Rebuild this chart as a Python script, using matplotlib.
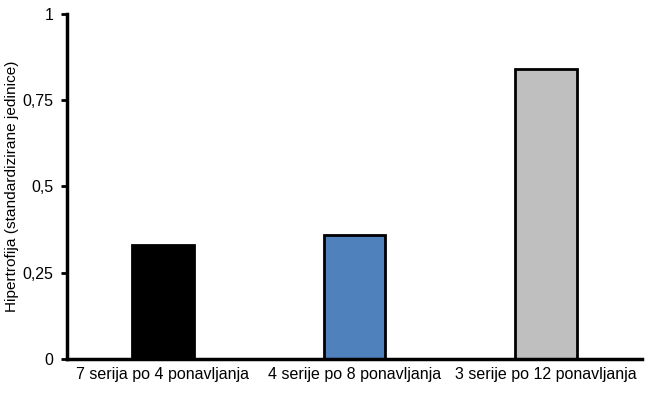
import matplotlib
matplotlib.use("Agg")
import matplotlib.pyplot as plt
from matplotlib.ticker import FuncFormatter

# data
categories = ["7 serija po 4 ponavljanja", "4 serije po 8 ponavljanja", "3 serije po 12 ponavljanja"]
hypertrophy = [0.33, 0.36, 0.84]
bar_colors = ["#000000", "#4f81bd", "#bfbfbf"]
y_ticks = [0, 0.25, 0.5, 0.75, 1]

plt.rcParams["font.family"] = ["Liberation Sans", "DejaVu Sans"]

fig = plt.figure(figsize=(6.51, 3.94), dpi=100)
ax = fig.add_axes([0.103, 0.089, 0.883, 0.876])

x = range(len(categories))
ax.bar(x, hypertrophy, width=0.32, color=bar_colors, edgecolor="black", linewidth=2, zorder=2)

ax.set_xlim(-0.5, 2.5)
ax.set_ylim(0, 1)
ax.set_yticks(y_ticks)
ax.yaxis.set_major_formatter(FuncFormatter(lambda v, p: ("%g" % v).replace(".", ",")))
ax.set_xticks(list(x))
ax.set_xticklabels(categories)
ax.tick_params(axis="x", length=0, pad=6, labelsize=11.5)
ax.tick_params(axis="y", length=4, width=2, pad=6, labelsize=11.5)
ax.set_ylabel("Hipertrofija (standardizirane jedinice)", fontsize=11.1, labelpad=2)

for s in ["top", "right"]:
    ax.spines[s].set_visible(False)
for s in ["left", "bottom"]:
    ax.spines[s].set_linewidth(2.5)

fig.savefig("out.png", dpi=100)
